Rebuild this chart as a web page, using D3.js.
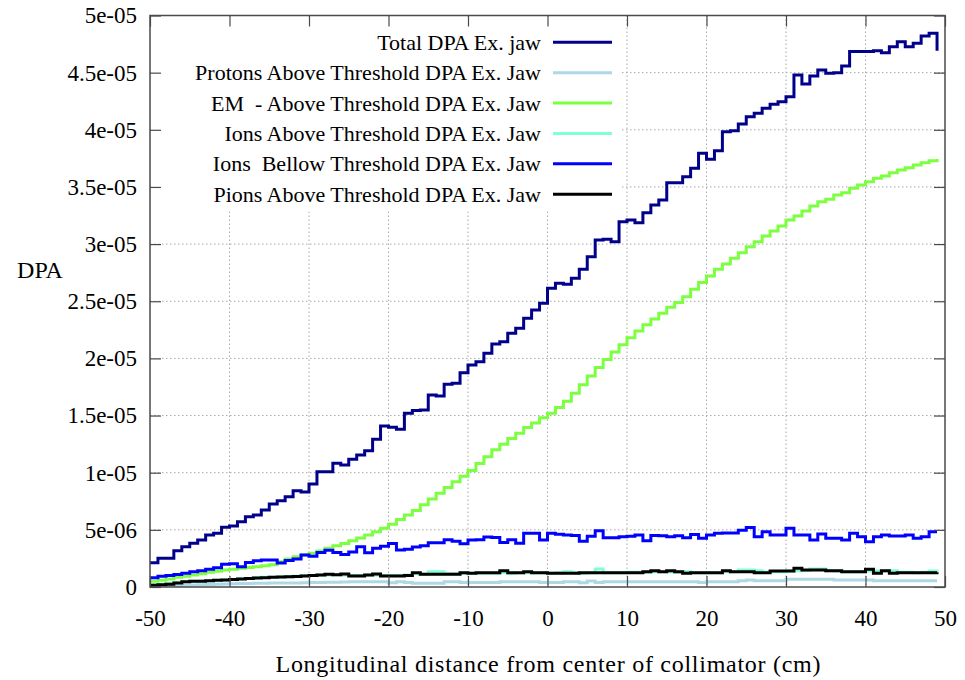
<!DOCTYPE html>
<html>
<head>
<meta charset="utf-8">
<script src="https://cdn.jsdelivr.net/npm/d3@7/dist/d3.min.js"></script>
<style>
  body { margin: 0; background: #fff; }
  text { font-family: "Liberation Serif", "Times New Roman", serif; fill: #000; white-space: pre; }
</style>
</head>
<body>
<svg id="chart" width="965" height="680"></svg>
<script>
// Bin left edges along the collimator (cm)
const positions = [
  -50,-49,-48,-47,-46,-45,-44,-43,-42,-41,
  -40,-39,-38,-37,-36,-35,-34,-33,-32,-31,
  -30,-29,-28,-27,-26,-25,-24,-23,-22,-21,
  -20,-19,-18,-17,-16,-15,-14,-13,-12,-11,
  -10,-9,-8,-7,-6,-5,-4,-3,-2,-1,
  0,1,2,3,4,5,6,7,8,9,
  10,11,12,13,14,15,16,17,18,19,
  20,21,22,23,24,25,26,27,28,29,
  30,31,32,33,34,35,36,37,38,39,
  40,41,42,43,44,45,46,47,48,49
];

// DPA per bin, in units of 1e-6
const totalDpa = [
  2.13, 2.51, 2.51, 3.18, 3.53, 3.82, 4.11, 4.55, 4.70, 5.22,
  5.34, 5.71, 6.15, 6.30, 6.74, 7.26, 7.55, 7.90, 8.43, 8.31,
  9.01, 10.09, 10.09, 10.82, 10.67, 11.17, 11.55, 11.93, 12.92, 14.09,
  13.97, 13.80, 15.20, 15.45, 15.49, 16.80, 16.71, 17.73, 17.82, 18.75,
  19.42, 19.71, 20.44, 21.26, 21.46, 22.19, 22.63, 23.51, 24.24, 24.82,
  26.13, 26.57, 26.48, 27.01, 27.80, 28.90, 30.36, 30.42, 30.21, 31.96,
  32.11, 31.87, 32.75, 33.42, 33.86, 35.37, 35.37, 35.90, 36.63, 37.94,
  37.42, 38.17, 39.84, 39.92, 40.51, 41.15, 41.44, 41.88, 42.23, 42.46,
  42.90, 44.80, 44.01, 44.71, 45.23, 44.94, 45.00, 45.58, 46.84, 46.84,
  46.84, 46.92, 46.75, 47.27, 47.71, 47.27, 47.57, 48.21, 48.44, 46.92
];
const protonsAbove = [
  0.05, 0.08, 0.10, 0.12, 0.15, 0.17, 0.20, 0.22, 0.24, 0.26,
  0.28, 0.30, 0.30, 0.32, 0.33, 0.34, 0.35, 0.36, 0.36, 0.38,
  0.40, 0.40, 0.42, 0.42, 0.44, 0.47, 0.47, 0.47, 0.45, 0.45,
  0.38, 0.47, 0.40, 0.32, 0.32, 0.32, 0.32, 0.47, 0.47, 0.40,
  0.40, 0.40, 0.40, 0.40, 0.47, 0.47, 0.47, 0.47, 0.47, 0.40,
  0.40, 0.40, 0.47, 0.47, 0.38, 0.52, 0.40, 0.47, 0.47, 0.45,
  0.45, 0.45, 0.45, 0.45, 0.47, 0.47, 0.47, 0.47, 0.47, 0.40,
  0.47, 0.47, 0.47, 0.47, 0.55, 0.61, 0.55, 0.55, 0.55, 0.55,
  0.67, 0.67, 0.67, 0.67, 0.67, 0.67, 0.61, 0.61, 0.61, 0.61,
  0.61, 0.55, 0.55, 0.55, 0.55, 0.55, 0.55, 0.55, 0.55, 0.55
];
const emAbove = [
  0.50, 0.60, 0.70, 0.85, 0.95, 1.05, 1.15, 1.28, 1.38, 1.48,
  1.56, 1.63, 1.70, 1.78, 1.85, 1.95, 2.20, 2.45, 2.65, 2.80,
  2.95, 3.15, 3.38, 3.60, 3.80, 4.05, 4.28, 4.55, 4.84, 5.15,
  5.50, 5.90, 6.30, 6.70, 7.20, 7.70, 8.20, 8.70, 9.20, 9.70,
  10.20, 10.80, 11.40, 12.00, 12.50, 13.00, 13.45, 13.95, 14.35, 14.80,
  15.20, 15.70, 16.25, 16.95, 17.70, 18.45, 19.20, 19.90, 20.55, 21.20,
  21.80, 22.40, 22.95, 23.45, 23.95, 24.47, 24.88, 25.40, 26.04, 26.63,
  27.21, 27.80, 28.26, 28.76, 29.25, 29.77, 30.21, 30.71, 31.15, 31.58,
  32.11, 32.46, 32.90, 33.33, 33.71, 33.92, 34.30, 34.50, 34.88, 35.17,
  35.46, 35.76, 35.96, 36.25, 36.48, 36.69, 36.92, 37.12, 37.30, 37.45
];
const ionsAbove = [
  0.20, 0.25, 0.30, 0.38, 0.45, 0.50, 0.52, 0.55, 0.60, 0.62,
  0.65, 0.70, 0.75, 0.80, 0.85, 0.85, 0.88, 0.90, 0.95, 1.00,
  1.00, 1.05, 1.05, 1.08, 1.05, 1.00, 1.00, 1.05, 1.05, 1.00,
  1.00, 1.00, 1.05, 1.15, 1.11, 1.34, 1.34, 1.15, 1.15, 1.20,
  1.20, 1.20, 1.20, 1.20, 1.30, 1.20, 1.25, 1.25, 1.25, 1.25,
  1.20, 1.25, 1.34, 1.25, 1.20, 1.25, 1.57, 1.25, 1.25, 1.25,
  1.30, 1.30, 1.30, 1.34, 1.34, 1.34, 1.30, 1.34, 1.25, 1.25,
  1.25, 1.25, 1.34, 1.34, 1.49, 1.49, 1.43, 1.30, 1.34, 1.34,
  1.40, 1.43, 1.45, 1.57, 1.57, 1.43, 1.40, 1.34, 1.34, 1.34,
  1.40, 1.40, 1.40, 1.43, 1.30, 1.30, 1.25, 1.30, 1.40, 1.30
];
const ionsBelow = [
  0.80, 0.95, 1.00, 1.10, 1.20, 1.34, 1.43, 1.55, 1.69, 2.00,
  2.04, 1.78, 2.15, 2.29, 2.36, 2.36, 2.10, 2.32, 2.46, 2.80,
  2.68, 3.02, 3.21, 3.02, 2.85, 3.07, 3.53, 3.00, 3.38, 3.56,
  3.80, 3.24, 3.30, 3.50, 3.60, 3.88, 3.88, 4.14, 4.00, 3.78,
  4.11, 4.14, 4.38, 4.33, 3.90, 4.14, 3.82, 4.70, 4.70, 4.11,
  4.70, 4.62, 4.55, 4.50, 4.00, 4.43, 4.92, 4.30, 4.30, 4.40,
  4.43, 4.55, 4.05, 4.50, 4.48, 4.40, 4.48, 4.30, 4.60, 4.26,
  4.55, 4.70, 4.72, 4.72, 4.96, 5.20, 4.40, 4.84, 4.55, 4.55,
  5.13, 4.55, 4.55, 4.11, 4.64, 4.26, 4.26, 4.11, 4.70, 4.40,
  3.96, 4.40, 4.55, 4.46, 4.46, 4.55, 4.26, 4.40, 4.84, 4.84
];
const pionsAbove = [
  0.15, 0.20, 0.25, 0.35, 0.45, 0.50, 0.50, 0.55, 0.60, 0.62,
  0.65, 0.70, 0.75, 0.78, 0.80, 0.85, 0.88, 0.90, 0.92, 0.96,
  1.00, 1.05, 1.11, 1.08, 1.14, 0.96, 0.96, 1.05, 1.14, 0.96,
  0.96, 0.96, 1.00, 1.25, 1.11, 1.11, 1.11, 1.11, 1.11, 1.25,
  1.20, 1.25, 1.25, 1.25, 1.43, 1.25, 1.25, 1.34, 1.25, 1.25,
  1.20, 1.20, 1.20, 1.20, 1.25, 1.25, 1.25, 1.25, 1.25, 1.25,
  1.25, 1.25, 1.34, 1.43, 1.34, 1.43, 1.34, 1.20, 1.25, 1.25,
  1.25, 1.25, 1.43, 1.34, 1.34, 1.34, 1.25, 1.25, 1.40, 1.40,
  1.40, 1.63, 1.49, 1.49, 1.49, 1.43, 1.43, 1.34, 1.34, 1.34,
  1.55, 1.20, 1.43, 1.20, 1.25, 1.25, 1.25, 1.25, 1.25, 1.30
];

const seriesNames = [
  "Total DPA Ex. jaw",
  "Protons Above Threshold DPA Ex. Jaw",
  "EM  - Above Threshold DPA Ex. Jaw",
  "Ions Above Threshold DPA Ex. Jaw",
  "Ions  Bellow Threshold DPA Ex. Jaw",
  "Pions Above Threshold DPA Ex. Jaw"
];
const seriesValues = [totalDpa, protonsAbove, emAbove, ionsAbove, ionsBelow, pionsAbove];
const seriesColors = ["#00008b", "#add8e6", "#7cff40", "#7fffd4", "#0000ff", "#000000"];

const xTicks = [-50, -40, -30, -20, -10, 0, 10, 20, 30, 40, 50];
const yTicks = [0, 5, 10, 15, 20, 25, 30, 35, 40, 45, 50];
const yTickLabels = ["0", "5e-06", "1e-05", "1.5e-05", "2e-05", "2.5e-05", "3e-05", "3.5e-05", "4e-05", "4.5e-05", "5e-05"];

const svg = d3.select("#chart");
const plotLeft = 150, plotRight = 945, plotTop = 15.5, plotBottom = 587;
const x = d3.scaleLinear().domain([-50, 50]).range([plotLeft, plotRight]);
const y = d3.scaleLinear().domain([0, 50]).range([plotBottom, plotTop]);
const keyFont = 22, tickFont = 23, titleFont = 24;

// dotted grid
const grid = svg.append("g").attr("stroke", "#a8a8a8").attr("stroke-width", 1).attr("stroke-dasharray", "1.5,2.5");
grid.selectAll("line.gx").data(xTicks.slice(1, -1)).join("line").attr("class", "gx")
  .attr("x1", d => x(d)).attr("x2", d => x(d)).attr("y1", plotTop).attr("y2", plotBottom);
grid.selectAll("line.gy").data(yTicks.slice(1, -1)).join("line").attr("class", "gy")
  .attr("x1", plotLeft).attr("x2", plotRight).attr("y1", d => y(d)).attr("y2", d => y(d));

// opaque key area
svg.append("rect").attr("x", plotLeft + 1).attr("y", plotTop + 1).attr("width", 471).attr("height", 195).attr("fill", "#fff");

// step lines
svg.append("clipPath").attr("id", "plotclip").append("rect")
  .attr("x", plotLeft).attr("y", plotTop).attr("width", plotRight - plotLeft).attr("height", plotBottom - plotTop);
const line = d3.line().x(d => x(d[0])).y(d => y(d[1])).curve(d3.curveStepAfter);
const lines = svg.append("g").attr("clip-path", "url(#plotclip)");
seriesValues.forEach((vals, i) => {
  lines.append("path")
    .datum(positions.map((p, j) => [p, vals[j]]))
    .attr("d", line)
    .attr("fill", "none")
    .attr("stroke", seriesColors[i])
    .attr("stroke-width", 3)
    .attr("stroke-linejoin", "miter");
});

// axes with inward ticks on all sides
const tickLen = 11;
const axisColor = "#4a4a4a";
function styleAxis(g) {
  g.attr("font-family", null);
  g.select(".domain").remove();
  g.selectAll(".tick line").attr("stroke", axisColor).attr("stroke-width", 1.2);
  g.selectAll(".tick text").attr("font-size", tickFont).attr("fill", "#000");
}
svg.append("g").attr("transform", `translate(0,${plotBottom})`)
  .call(d3.axisBottom(x).tickValues(xTicks).tickSize(-tickLen).tickPadding(23).tickFormat(d => String(d)))
  .call(styleAxis);
svg.append("g").attr("transform", `translate(0,${plotTop})`)
  .call(d3.axisTop(x).tickValues(xTicks).tickSize(-tickLen).tickFormat(""))
  .call(styleAxis);
svg.append("g").attr("transform", `translate(${plotLeft},0)`)
  .call(d3.axisLeft(y).tickValues(yTicks).tickSize(-tickLen).tickPadding(13).tickFormat((d, i) => yTickLabels[i]))
  .call(styleAxis);
svg.append("g").attr("transform", `translate(${plotRight},0)`)
  .call(d3.axisRight(y).tickValues(yTicks).tickSize(-tickLen).tickFormat(""))
  .call(styleAxis);

svg.append("rect").attr("x", plotLeft).attr("y", plotTop).attr("width", plotRight - plotLeft).attr("height", plotBottom - plotTop)
  .attr("fill", "none").attr("stroke", axisColor).attr("stroke-width", 1.5);

// key
const keyRowY = [42.3, 72.7, 103, 133.4, 163.8, 194.2];
const key = svg.append("g");
seriesNames.forEach((name, i) => {
  key.append("text").attr("x", 541).attr("y", keyRowY[i]).attr("text-anchor", "end")
    .attr("dominant-baseline", "central").attr("font-size", keyFont).text(name);
  key.append("line").attr("x1", 553).attr("x2", 612).attr("y1", keyRowY[i]).attr("y2", keyRowY[i])
    .attr("stroke", seriesColors[i]).attr("stroke-width", 3);
});

// axis titles
svg.append("text").attr("x", 548).attr("y", 664).attr("text-anchor", "middle")
  .attr("dominant-baseline", "central").attr("font-size", titleFont)
  .attr("textLength", 545).attr("lengthAdjust", "spacing")
  .text("Longitudinal distance from center of collimator (cm)");
svg.append("text").attr("x", 40).attr("y", 270).attr("text-anchor", "middle")
  .attr("dominant-baseline", "central").attr("font-size", titleFont).text("DPA");
</script>
</body>
</html>
